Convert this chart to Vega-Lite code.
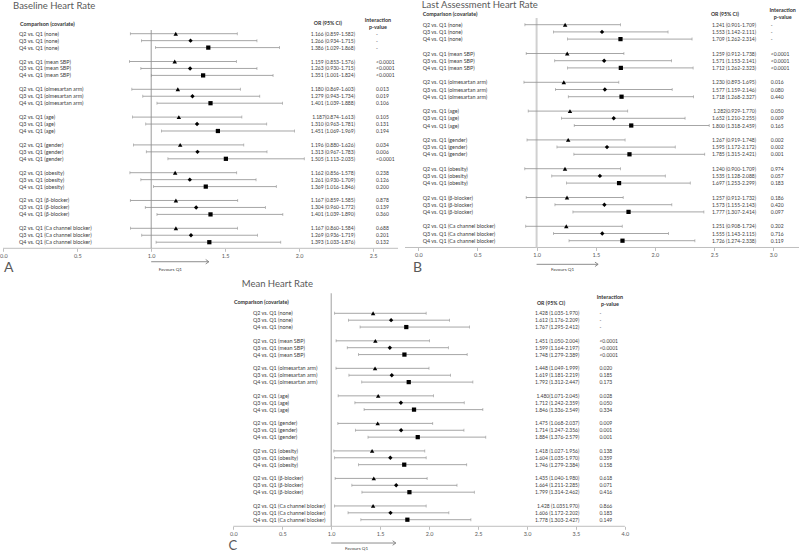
{
"$schema": "https://vega.github.io/schema/vega-lite/v6.json",
"width": 800, "height": 552,
"autosize": {"type": "none"},
"padding": 0,
"background": "white",
"config": {"view": {"stroke": null}, "font": "Lato, Open Sans, sans-serif", "text": {"font": "Lato, Open Sans, sans-serif", "color": "#404040"}},
"resolve": {"scale": {"x": "independent", "y": "independent"}, "axis": {"x": "independent", "y": "independent"}},
"datasets": {
"A": [
{"row":0,"label":"Q2 vs. Q1 (none)","q":"Q2","or":1.166,"lo":0.859,"hi":1.582,"ci":"1.166 (0.859-1.582)","p":"-"},
{"row":1,"label":"Q3 vs. Q1 (none)","q":"Q3","or":1.266,"lo":0.934,"hi":1.715,"ci":"1.266 (0.934-1.715)","p":"-"},
{"row":2,"label":"Q4 vs. Q1 (none)","q":"Q4","or":1.386,"lo":1.029,"hi":1.868,"ci":"1.386 (1.029-1.868)","p":"-"},
{"row":4,"label":"Q2 vs. Q1 (mean SBP)","q":"Q2","or":1.159,"lo":0.853,"hi":1.576,"ci":"1.159 (0.853-1.576)","p":"<0.0001"},
{"row":5,"label":"Q3 vs. Q1 (mean SBP)","q":"Q3","or":1.263,"lo":0.930,"hi":1.715,"ci":"1.263 (0.930-1.715)","p":"<0.0001"},
{"row":6,"label":"Q4 vs. Q1 (mean SBP)","q":"Q4","or":1.351,"lo":1.001,"hi":1.824,"ci":"1.351 (1.001-1.824)","p":"<0.0001"},
{"row":8,"label":"Q2 vs. Q1 (olmesartan arm)","q":"Q2","or":1.180,"lo":0.869,"hi":1.603,"ci":"1.180 (0.869-1.603)","p":"0.013"},
{"row":9,"label":"Q3 vs. Q1 (olmesartan arm)","q":"Q3","or":1.279,"lo":0.943,"hi":1.734,"ci":"1.279 (0.943-1.734)","p":"0.019"},
{"row":10,"label":"Q4 vs. Q1 (olmesartan arm)","q":"Q4","or":1.401,"lo":1.039,"hi":1.888,"ci":"1.401 (1.039-1.888)","p":"0.106"},
{"row":12,"label":"Q2 vs. Q1 (age)","q":"Q2","or":1.187,"lo":0.874,"hi":1.613,"ci":"1.187(0.874-1.613)","p":"0.105"},
{"row":13,"label":"Q3 vs. Q1 (age)","q":"Q3","or":1.310,"lo":0.963,"hi":1.781,"ci":"1.310 (0.963-1.781)","p":"0.131"},
{"row":14,"label":"Q4 vs. Q1 (age)","q":"Q4","or":1.451,"lo":1.069,"hi":1.969,"ci":"1.451 (1.069-1.969)","p":"0.194"},
{"row":16,"label":"Q2 vs. Q1 (gender)","q":"Q2","or":1.196,"lo":0.880,"hi":1.626,"ci":"1.196 (0.880-1.626)","p":"0.034"},
{"row":17,"label":"Q3 vs. Q1 (gender)","q":"Q3","or":1.313,"lo":0.967,"hi":1.783,"ci":"1.313 (0.967-1.783)","p":"0.006"},
{"row":18,"label":"Q4 vs. Q1 (gender)","q":"Q4","or":1.505,"lo":1.113,"hi":2.035,"ci":"1.505 (1.113-2.035)","p":"<0.0001"},
{"row":20,"label":"Q2 vs. Q1 (obesity)","q":"Q2","or":1.162,"lo":0.856,"hi":1.578,"ci":"1.162 (0.856-1.578)","p":"0.238"},
{"row":21,"label":"Q3 vs. Q1 (obesity)","q":"Q3","or":1.261,"lo":0.930,"hi":1.709,"ci":"1.261 (0.930-1.709)","p":"0.126"},
{"row":22,"label":"Q4 vs. Q1 (obesity)","q":"Q4","or":1.369,"lo":1.016,"hi":1.846,"ci":"1.369 (1.016-1.846)","p":"0.200"},
{"row":24,"label":"Q2 vs. Q1 (β-blocker)","q":"Q2","or":1.167,"lo":0.859,"hi":1.585,"ci":"1.167 (0.859-1.585)","p":"0.878"},
{"row":25,"label":"Q3 vs. Q1 (β-blocker)","q":"Q3","or":1.304,"lo":0.960,"hi":1.772,"ci":"1.304 (0.960-1.772)","p":"0.139"},
{"row":26,"label":"Q4 vs. Q1 (β-blocker)","q":"Q4","or":1.401,"lo":1.039,"hi":1.890,"ci":"1.401 (1.039-1.890)","p":"0.360"},
{"row":28,"label":"Q2 vs. Q1 (Ca channel blocker)","q":"Q2","or":1.167,"lo":0.860,"hi":1.584,"ci":"1.167 (0.860-1.584)","p":"0.688"},
{"row":29,"label":"Q3 vs. Q1 (Ca channel blocker)","q":"Q3","or":1.269,"lo":0.936,"hi":1.719,"ci":"1.269 (0.936-1.719)","p":"0.201"},
{"row":30,"label":"Q4 vs. Q1 (Ca channel blocker)","q":"Q4","or":1.393,"lo":1.033,"hi":1.876,"ci":"1.393 (1.033-1.876)","p":"0.132"}
],
"B": [
{"row":0,"label":"Q2 vs. Q1 (none)","q":"Q2","or":1.241,"lo":0.901,"hi":1.709,"ci":"1.241 (0.901-1.709)","p":"-"},
{"row":1,"label":"Q3 vs. Q1 (none)","q":"Q3","or":1.553,"lo":1.142,"hi":2.111,"ci":"1.553 (1.142-2.111)","p":"-"},
{"row":2,"label":"Q4 vs. Q1 (none)","q":"Q4","or":1.709,"lo":1.262,"hi":2.314,"ci":"1.709 (1.262-2.314)","p":"-"},
{"row":4,"label":"Q2 vs. Q1 (mean SBP)","q":"Q2","or":1.259,"lo":0.912,"hi":1.738,"ci":"1.259 (0.912-1.738)","p":"<0.0001"},
{"row":5,"label":"Q3 vs. Q1 (mean SBP)","q":"Q3","or":1.571,"lo":1.153,"hi":2.141,"ci":"1.571 (1.153-2.141)","p":"<0.0001"},
{"row":6,"label":"Q4 vs. Q1 (mean SBP)","q":"Q4","or":1.712,"lo":1.262,"hi":2.323,"ci":"1.712 (1.262-2.323)","p":"<0.0001"},
{"row":8,"label":"Q2 vs. Q1 (olmesartan arm)","q":"Q2","or":1.230,"lo":0.893,"hi":1.695,"ci":"1.230 (0.893-1.695)","p":"0.016"},
{"row":9,"label":"Q3 vs. Q1 (olmesartan arm)","q":"Q3","or":1.577,"lo":1.159,"hi":2.146,"ci":"1.577 (1.159-2.146)","p":"0.080"},
{"row":10,"label":"Q4 vs. Q1 (olmesartan arm)","q":"Q4","or":1.718,"lo":1.268,"hi":2.327,"ci":"1.718 (1.268-2.327)","p":"0.440"},
{"row":12,"label":"Q2 vs. Q1 (age)","q":"Q2","or":1.282,"lo":0.929,"hi":1.770,"ci":"1.282(0.929-1.770)","p":"0.050"},
{"row":13,"label":"Q3 vs. Q1 (age)","q":"Q3","or":1.652,"lo":1.210,"hi":2.255,"ci":"1.652 (1.210-2.255)","p":"0.009"},
{"row":14,"label":"Q4 vs. Q1 (age)","q":"Q4","or":1.800,"lo":1.318,"hi":2.459,"ci":"1.800 (1.318-2.459)","p":"0.165"},
{"row":16,"label":"Q2 vs. Q1 (gender)","q":"Q2","or":1.267,"lo":0.919,"hi":1.748,"ci":"1.267 (0.919-1.748)","p":"0.002"},
{"row":17,"label":"Q3 vs. Q1 (gender)","q":"Q3","or":1.595,"lo":1.172,"hi":2.172,"ci":"1.595 (1.172-2.172)","p":"0.002"},
{"row":18,"label":"Q4 vs. Q1 (gender)","q":"Q4","or":1.785,"lo":1.315,"hi":2.421,"ci":"1.785 (1.315-2.421)","p":"0.001"},
{"row":20,"label":"Q2 vs. Q1 (obesity)","q":"Q2","or":1.240,"lo":0.900,"hi":1.709,"ci":"1.240 (0.900-1.709)","p":"0.974"},
{"row":21,"label":"Q3 vs. Q1 (obesity)","q":"Q3","or":1.535,"lo":1.128,"hi":2.088,"ci":"1.535 (1.128-2.088)","p":"0.057"},
{"row":22,"label":"Q4 vs. Q1 (obesity)","q":"Q4","or":1.697,"lo":1.253,"hi":2.299,"ci":"1.697 (1.253-2.299)","p":"0.183"},
{"row":24,"label":"Q2 vs. Q1 (β-blocker)","q":"Q2","or":1.257,"lo":0.912,"hi":1.732,"ci":"1.257 (0.912-1.732)","p":"0.186"},
{"row":25,"label":"Q3 vs. Q1 (β-blocker)","q":"Q3","or":1.573,"lo":1.155,"hi":2.143,"ci":"1.573 (1.155-2.143)","p":"0.420"},
{"row":26,"label":"Q4 vs. Q1 (β-blocker)","q":"Q4","or":1.777,"lo":1.307,"hi":2.414,"ci":"1.777 (1.307-2.414)","p":"0.097"},
{"row":28,"label":"Q2 vs. Q1 (Ca channel blocker)","q":"Q2","or":1.251,"lo":0.908,"hi":1.724,"ci":"1.251 (0.908-1.724)","p":"0.202"},
{"row":29,"label":"Q3 vs. Q1 (Ca channel blocker)","q":"Q3","or":1.555,"lo":1.143,"hi":2.115,"ci":"1.555 (1.143-2.115)","p":"0.716"},
{"row":30,"label":"Q4 vs. Q1 (Ca channel blocker)","q":"Q4","or":1.726,"lo":1.274,"hi":2.338,"ci":"1.726 (1.274-2.338)","p":"0.119"}
],
"C": [
{"row":0,"label":"Q2 vs. Q1 (none)","q":"Q2","or":1.428,"lo":1.035,"hi":1.970,"ci":"1.428 (1.035-1.970)","p":"-"},
{"row":1,"label":"Q3 vs. Q1 (none)","q":"Q3","or":1.612,"lo":1.176,"hi":2.209,"ci":"1.612 (1.176-2.209)","p":"-"},
{"row":2,"label":"Q4 vs. Q1 (none)","q":"Q4","or":1.767,"lo":1.295,"hi":2.412,"ci":"1.767 (1.295-2.412)","p":"-"},
{"row":4,"label":"Q2 vs. Q1 (mean SBP)","q":"Q2","or":1.451,"lo":1.050,"hi":2.004,"ci":"1.451 (1.050-2.004)","p":"<0.0001"},
{"row":5,"label":"Q3 vs. Q1 (mean SBP)","q":"Q3","or":1.599,"lo":1.164,"hi":2.197,"ci":"1.599 (1.164-2.197)","p":"<0.0001"},
{"row":6,"label":"Q4 vs. Q1 (mean SBP)","q":"Q4","or":1.748,"lo":1.279,"hi":2.389,"ci":"1.748 (1.279-2.389)","p":"<0.0001"},
{"row":8,"label":"Q2 vs. Q1 (olmesartan arm)","q":"Q2","or":1.448,"lo":1.049,"hi":1.999,"ci":"1.448 (1.049-1.999)","p":"0.020"},
{"row":9,"label":"Q3 vs. Q1 (olmesartan arm)","q":"Q3","or":1.619,"lo":1.181,"hi":2.219,"ci":"1.619 (1.181-2.219)","p":"0.185"},
{"row":10,"label":"Q4 vs. Q1 (olmesartan arm)","q":"Q4","or":1.792,"lo":1.312,"hi":2.447,"ci":"1.792 (1.312-2.447)","p":"0.173"},
{"row":12,"label":"Q2 vs. Q1 (age)","q":"Q2","or":1.480,"lo":1.071,"hi":2.045,"ci":"1.480(1.071-2.045)","p":"0.028"},
{"row":13,"label":"Q3 vs. Q1 (age)","q":"Q3","or":1.712,"lo":1.242,"hi":2.359,"ci":"1.712 (1.242-2.359)","p":"0.050"},
{"row":14,"label":"Q4 vs. Q1 (age)","q":"Q4","or":1.846,"lo":1.336,"hi":2.549,"ci":"1.846 (1.336-2.549)","p":"0.334"},
{"row":16,"label":"Q2 vs. Q1 (gender)","q":"Q2","or":1.475,"lo":1.068,"hi":2.037,"ci":"1.475 (1.068-2.037)","p":"0.009"},
{"row":17,"label":"Q3 vs. Q1 (gender)","q":"Q3","or":1.714,"lo":1.247,"hi":2.356,"ci":"1.714 (1.247-2.356)","p":"0.001"},
{"row":18,"label":"Q4 vs. Q1 (gender)","q":"Q4","or":1.884,"lo":1.376,"hi":2.579,"ci":"1.884 (1.376-2.579)","p":"0.001"},
{"row":20,"label":"Q2 vs. Q1 (obesity)","q":"Q2","or":1.418,"lo":1.027,"hi":1.956,"ci":"1.418 (1.027-1.956)","p":"0.138"},
{"row":21,"label":"Q3 vs. Q1 (obesity)","q":"Q3","or":1.604,"lo":1.035,"hi":1.970,"ci":"1.604 (1.035-1.970)","p":"0.359"},
{"row":22,"label":"Q4 vs. Q1 (obesity)","q":"Q4","or":1.746,"lo":1.279,"hi":2.384,"ci":"1.746 (1.279-2.384)","p":"0.158"},
{"row":24,"label":"Q2 vs. Q1 (β-blocker)","q":"Q2","or":1.435,"lo":1.040,"hi":1.980,"ci":"1.435 (1.040-1.980)","p":"0.618"},
{"row":25,"label":"Q3 vs. Q1 (β-blocker)","q":"Q3","or":1.664,"lo":1.211,"hi":2.285,"ci":"1.664 (1.211-2.285)","p":"0.071"},
{"row":26,"label":"Q4 vs. Q1 (β-blocker)","q":"Q4","or":1.799,"lo":1.314,"hi":2.462,"ci":"1.799 (1.314-2.462)","p":"0.416"},
{"row":28,"label":"Q2 vs. Q1 (Ca channel blocker)","q":"Q2","or":1.428,"lo":1.035,"hi":1.970,"ci":"1.428 (1.0351.970)","p":"0.866"},
{"row":29,"label":"Q3 vs. Q1 (Ca channel blocker)","q":"Q3","or":1.606,"lo":1.172,"hi":2.202,"ci":"1.606 (1.172-2.202)","p":"0.183"},
{"row":30,"label":"Q4 vs. Q1 (Ca channel blocker)","q":"Q4","or":1.778,"lo":1.303,"hi":2.427,"ci":"1.778 (1.303-2.427)","p":"0.149"}
]
},
"layer": [
{
"data": {"name": "A"},
"encoding": {
 "x": {"field": "or", "type": "quantitative", "scale": {"domain": [-0.0223, 5.3868], "nice": false, "zero": false},
  "axis": {"orient": "bottom", "offset": -303.7, "domain": false, "values": [0, 0.5, 1, 1.5, 2, 2.5], "format": ".1f", "title": null, "grid": false, "tickColor": "#bfbfbf", "tickSize": 3, "labelFontSize": 5.5, "labelFont": "Lato, Open Sans, sans-serif", "labelColor": "#595959", "labelPadding": 2, "labelFlush": false}},
 "y": {"field": "row", "type": "quantitative", "scale": {"domain": [-4.849, 74.576], "reverse": true, "nice": false, "zero": false}, "axis": null}
},
"layer": [
 {"transform": [{"filter": "datum.row === 0"}], "mark": {"type": "rule", "color": "#bfbfbf", "strokeWidth": 1}, "encoding": {"x": {"datum": -0.002}, "x2": {"datum": 2.669}, "y": {"datum": 30.878}}},
 {"transform": [{"filter": "datum.row === 0"}], "mark": {"type": "rule", "color": "#9a9a9a", "strokeWidth": 1}, "encoding": {"x": {"datum": 1}, "y": {"datum": -0.53}, "y2": {"datum": 30.878}}},
 {"mark": {"type": "rule", "color": "#8f8f8f", "strokeWidth": 0.8}, "encoding": {"x": {"field": "lo", "type": "quantitative"}, "x2": {"field": "hi"}}},
 {"mark": {"type": "tick", "orient": "vertical", "size": 3, "thickness": 0.8, "color": "#8f8f8f"}, "encoding": {"x": {"field": "lo", "type": "quantitative"}}},
 {"mark": {"type": "tick", "orient": "vertical", "size": 3, "thickness": 0.8, "color": "#8f8f8f"}, "encoding": {"x": {"field": "hi", "type": "quantitative"}}},
 {"mark": {"type": "point", "filled": true, "opacity": 1, "color": "#000000"}, "encoding": {
   "shape": {"field": "q", "type": "nominal", "scale": {"domain": ["Q2", "Q3", "Q4"], "range": ["triangle-up", "diamond", "square"]}, "legend": null},
   "size": {"field": "q", "type": "ordinal", "scale": {"domain": ["Q2", "Q3", "Q4"], "range": [20, 18, 28]}, "legend": null}}},
 {"mark": {"type": "text", "align": "left", "baseline": "middle", "fontSize": 5.4, "color": "#404040"}, "encoding": {"x": {"datum": 0.106}, "text": {"field": "label"}}},
 {"mark": {"type": "text", "align": "right", "baseline": "middle", "fontSize": 5, "color": "#404040"}, "encoding": {"x": {"datum": 2.378}, "text": {"field": "ci"}}},
 {"mark": {"type": "text", "align": "left", "baseline": "middle", "fontSize": 5, "color": "#404040"}, "encoding": {"x": {"datum": 2.52}, "text": {"field": "p"}}},
 {"transform": [{"filter": "datum.row === 0"}], "mark": {"type": "text", "text": "Comparison (covariate)", "align": "left", "baseline": "middle", "fontSize": 5.4, "fontWeight": "bold", "color": "#333333"}, "encoding": {"x": {"datum": 0.113}, "y": {"datum": -1.4}}},
 {"transform": [{"filter": "datum.row === 0"}], "mark": {"type": "text", "text": "OR (95% CI)", "align": "center", "baseline": "middle", "fontSize": 5.2, "fontWeight": "bold", "color": "#333333"}, "encoding": {"x": {"datum": 2.195}, "y": {"datum": -1.5}}},
 {"transform": [{"filter": "datum.row === 0"}], "mark": {"type": "text", "text": ["Interaction", "p-value"], "lineHeight": 6.7, "align": "center", "baseline": "middle", "fontSize": 5.4, "fontWeight": "bold", "color": "#333333"}, "encoding": {"x": {"datum": 2.533}, "y": {"datum": -1.97}}},
 {"transform": [{"filter": "datum.row === 0"}], "mark": {"type": "text", "text": "Baseline Heart Rate", "align": "left", "baseline": "middle", "fontSize": 9.5, "color": "#595959"}, "encoding": {"x": {"datum": 0.066}, "y": {"datum": -3.99}}},
 {"transform": [{"filter": "datum.row === 0"}], "mark": {"type": "text", "text": "A", "align": "left", "baseline": "middle", "fontSize": 14, "color": "#595959"}, "encoding": {"x": {"datum": 0.005}, "y": {"datum": 33.71}}},
 {"transform": [{"filter": "datum.row === 0"}], "mark": {"type": "rule", "color": "#7f7f7f", "strokeWidth": 0.9}, "encoding": {"x": {"datum": 1}, "x2": {"datum": 1.39}, "y": {"datum": 32.81}}},
 {"transform": [{"filter": "datum.row === 0"}], "mark": {"type": "point", "shape": "M-1,-0.7L0,0L-1,0.7", "size": 40, "filled": false, "opacity": 1, "color": "#7f7f7f", "strokeWidth": 0.9}, "encoding": {"x": {"datum": 1.39}, "y": {"datum": 32.81}}},
 {"transform": [{"filter": "datum.row === 0"}], "mark": {"type": "text", "text": "Favours Q1", "align": "center", "baseline": "middle", "fontSize": 4.6, "color": "#404040"}, "encoding": {"x": {"datum": 1.13}, "y": {"datum": 33.93}}}
]
},
{
"data": {"name": "B"},
"encoding": {
 "x": {"field": "or", "type": "quantitative", "scale": {"domain": [-3.5359, 3.2265], "nice": false, "zero": false},
  "axis": {"orient": "bottom", "offset": -304.5, "domain": false, "values": [0, 0.5, 1, 1.5, 2, 2.5, 3], "format": ".1f", "title": null, "grid": false, "tickColor": "#bfbfbf", "tickSize": 3, "labelFontSize": 5.5, "labelFont": "Lato, Open Sans, sans-serif", "labelColor": "#595959", "labelPadding": 2, "labelFlush": false}},
 "y": {"field": "row", "type": "quantitative", "scale": {"domain": [-3.4306, 73.236], "reverse": true, "nice": false, "zero": false}, "axis": null}
},
"layer": [
 {"transform": [{"filter": "datum.row === 0"}], "mark": {"type": "rule", "color": "#bfbfbf", "strokeWidth": 1}, "encoding": {"x": {"datum": -0.1124}, "x2": {"datum": 3.2181}, "y": {"datum": 30.944}}},
 {"transform": [{"filter": "datum.row === 0"}], "mark": {"type": "rule", "color": "#d0d0d0", "strokeWidth": 2}, "encoding": {"x": {"datum": 1}, "y": {"datum": -0.93}, "y2": {"datum": 30.944}}},
 {"mark": {"type": "rule", "color": "#8f8f8f", "strokeWidth": 0.8}, "encoding": {"x": {"field": "lo", "type": "quantitative"}, "x2": {"field": "hi"}}},
 {"mark": {"type": "tick", "orient": "vertical", "size": 3, "thickness": 0.8, "color": "#8f8f8f"}, "encoding": {"x": {"field": "lo", "type": "quantitative"}}},
 {"mark": {"type": "tick", "orient": "vertical", "size": 3, "thickness": 0.8, "color": "#8f8f8f"}, "encoding": {"x": {"field": "hi", "type": "quantitative"}}},
 {"mark": {"type": "point", "filled": true, "opacity": 1, "color": "#000000"}, "encoding": {
   "shape": {"field": "q", "type": "nominal", "scale": {"domain": ["Q2", "Q3", "Q4"], "range": ["triangle-up", "diamond", "square"]}, "legend": null},
   "size": {"field": "q", "type": "ordinal", "scale": {"domain": ["Q2", "Q3", "Q4"], "range": [20, 18, 28]}, "legend": null}}},
 {"mark": {"type": "text", "align": "left", "baseline": "middle", "fontSize": 5.4, "color": "#404040"}, "encoding": {"x": {"datum": 0.037}, "text": {"field": "label"}}},
 {"mark": {"type": "text", "align": "right", "baseline": "middle", "fontSize": 5, "color": "#404040"}, "encoding": {"x": {"datum": 2.855}, "text": {"field": "ci"}}},
 {"mark": {"type": "text", "align": "left", "baseline": "middle", "fontSize": 5, "color": "#404040"}, "encoding": {"x": {"datum": 2.98}, "text": {"field": "p"}}},
 {"transform": [{"filter": "datum.row === 0"}], "mark": {"type": "text", "text": "Comparison (covariate)", "align": "left", "baseline": "middle", "fontSize": 5.4, "fontWeight": "bold", "color": "#333333"}, "encoding": {"x": {"datum": 0.037}, "y": {"datum": -1.44}}},
 {"transform": [{"filter": "datum.row === 0"}], "mark": {"type": "text", "text": "OR (95% CI)", "align": "center", "baseline": "middle", "fontSize": 5.2, "fontWeight": "bold", "color": "#333333"}, "encoding": {"x": {"datum": 2.592}, "y": {"datum": -1.44}}},
 {"transform": [{"filter": "datum.row === 0"}], "mark": {"type": "text", "text": ["Interaction", "p-value"], "lineHeight": 7.3, "align": "center", "baseline": "middle", "fontSize": 5.4, "fontWeight": "bold", "color": "#333333"}, "encoding": {"x": {"datum": 3.08}, "y": {"datum": -2.04}}},
 {"transform": [{"filter": "datum.row === 0"}], "mark": {"type": "text", "text": "Last Assessment Heart Rate", "align": "left", "baseline": "middle", "fontSize": 9.5, "color": "#595959"}, "encoding": {"x": {"datum": 0.029}, "y": {"datum": -2.68}}},
 {"transform": [{"filter": "datum.row === 0"}], "mark": {"type": "text", "text": "B", "align": "left", "baseline": "middle", "fontSize": 14, "color": "#595959"}, "encoding": {"x": {"datum": -0.045}, "y": {"datum": 33.79}}},
 {"transform": [{"filter": "datum.row === 0"}], "mark": {"type": "rule", "color": "#7f7f7f", "strokeWidth": 0.9}, "encoding": {"x": {"datum": 1}, "x2": {"datum": 1.52}, "y": {"datum": 33.28}}},
 {"transform": [{"filter": "datum.row === 0"}], "mark": {"type": "point", "shape": "M-1,-0.7L0,0L-1,0.7", "size": 40, "filled": false, "opacity": 1, "color": "#7f7f7f", "strokeWidth": 0.9}, "encoding": {"x": {"datum": 1.52}, "y": {"datum": 33.28}}},
 {"transform": [{"filter": "datum.row === 0"}], "mark": {"type": "text", "text": "Favours Q1", "align": "center", "baseline": "middle", "fontSize": 4.6, "color": "#404040"}, "encoding": {"x": {"datum": 1.22}, "y": {"datum": 34.07}}}
]
},
{
"data": {"name": "C"},
"encoding": {
 "x": {"field": "or", "type": "quantitative", "scale": {"domain": [-2.383, 5.7886], "nice": false, "zero": false},
  "axis": {"orient": "bottom", "offset": -25.7, "domain": false, "values": [0, 0.5, 1, 1.5, 2, 2.5, 3, 3.5, 4], "format": ".1f", "title": null, "grid": false, "tickColor": "#bfbfbf", "tickSize": 3, "labelFontSize": 5.5, "labelFont": "Lato, Open Sans, sans-serif", "labelColor": "#595959", "labelPadding": 2, "labelFlush": false}},
 "y": {"field": "row", "type": "quantitative", "scale": {"domain": [-45.538, 34.695], "reverse": true, "nice": false, "zero": false}, "axis": null}
},
"layer": [
 {"transform": [{"filter": "datum.row === 0"}], "mark": {"type": "rule", "color": "#bfbfbf", "strokeWidth": 1}, "encoding": {"x": {"datum": 0}, "x2": {"datum": 4}, "y": {"datum": 30.959}}},
 {"transform": [{"filter": "datum.row === 0"}], "mark": {"type": "rule", "color": "#a0a0a0", "strokeWidth": 1}, "encoding": {"x": {"datum": 1}, "y": {"datum": -2.91}, "y2": {"datum": 30.959}}},
 {"mark": {"type": "rule", "color": "#8f8f8f", "strokeWidth": 0.8}, "encoding": {"x": {"field": "lo", "type": "quantitative"}, "x2": {"field": "hi"}}},
 {"mark": {"type": "tick", "orient": "vertical", "size": 3, "thickness": 0.8, "color": "#8f8f8f"}, "encoding": {"x": {"field": "lo", "type": "quantitative"}}},
 {"mark": {"type": "tick", "orient": "vertical", "size": 3, "thickness": 0.8, "color": "#8f8f8f"}, "encoding": {"x": {"field": "hi", "type": "quantitative"}}},
 {"mark": {"type": "point", "filled": true, "opacity": 1, "color": "#000000"}, "encoding": {
   "shape": {"field": "q", "type": "nominal", "scale": {"domain": ["Q2", "Q3", "Q4"], "range": ["triangle-up", "diamond", "square"]}, "legend": null},
   "size": {"field": "q", "type": "ordinal", "scale": {"domain": ["Q2", "Q3", "Q4"], "range": [20, 18, 28]}, "legend": null}}},
 {"mark": {"type": "text", "align": "left", "baseline": "middle", "fontSize": 5.4, "color": "#404040"}, "encoding": {"x": {"datum": 0.2}, "text": {"field": "label"}}},
 {"mark": {"type": "text", "align": "right", "baseline": "middle", "fontSize": 5, "color": "#404040"}, "encoding": {"x": {"datum": 3.534}, "text": {"field": "ci"}}},
 {"mark": {"type": "text", "align": "left", "baseline": "middle", "fontSize": 5, "color": "#404040"}, "encoding": {"x": {"datum": 3.74}, "text": {"field": "p"}}},
 {"transform": [{"filter": "datum.row === 0"}], "mark": {"type": "text", "text": "Comparison (covariate)", "align": "left", "baseline": "middle", "fontSize": 5.4, "fontWeight": "bold", "color": "#333333"}, "encoding": {"x": {"datum": 0.007}, "y": {"datum": -1.69}}},
 {"transform": [{"filter": "datum.row === 0"}], "mark": {"type": "text", "text": "OR (95% CI)", "align": "center", "baseline": "middle", "fontSize": 5.2, "fontWeight": "bold", "color": "#333333"}, "encoding": {"x": {"datum": 3.245}, "y": {"datum": -1.45}}},
 {"transform": [{"filter": "datum.row === 0"}], "mark": {"type": "text", "text": ["Interaction", "p-value"], "lineHeight": 6.7, "align": "center", "baseline": "middle", "fontSize": 5.4, "fontWeight": "bold", "color": "#333333"}, "encoding": {"x": {"datum": 3.847}, "y": {"datum": -2.33}}},
 {"transform": [{"filter": "datum.row === 0"}], "mark": {"type": "text", "text": "Mean Heart Rate", "align": "left", "baseline": "middle", "fontSize": 9.5, "color": "#595959"}, "encoding": {"x": {"datum": 0.086}, "y": {"datum": -4.26}}},
 {"transform": [{"filter": "datum.row === 0"}], "mark": {"type": "text", "text": "C", "align": "left", "baseline": "middle", "fontSize": 13, "color": "#595959"}, "encoding": {"x": {"datum": -0.05}, "y": {"datum": 33.82}}},
 {"transform": [{"filter": "datum.row === 0"}], "mark": {"type": "rule", "color": "#7f7f7f", "strokeWidth": 0.9}, "encoding": {"x": {"datum": 1}, "x2": {"datum": 1.66}, "y": {"datum": 33.39}}},
 {"transform": [{"filter": "datum.row === 0"}], "mark": {"type": "point", "shape": "M-1,-0.7L0,0L-1,0.7", "size": 40, "filled": false, "opacity": 1, "color": "#7f7f7f", "strokeWidth": 0.9}, "encoding": {"x": {"datum": 1.66}, "y": {"datum": 33.39}}},
 {"transform": [{"filter": "datum.row === 0"}], "mark": {"type": "text", "text": "Favours Q1", "align": "center", "baseline": "middle", "fontSize": 4.6, "color": "#404040"}, "encoding": {"x": {"datum": 1.26}, "y": {"datum": 34.26}}}
]
}
]
}
